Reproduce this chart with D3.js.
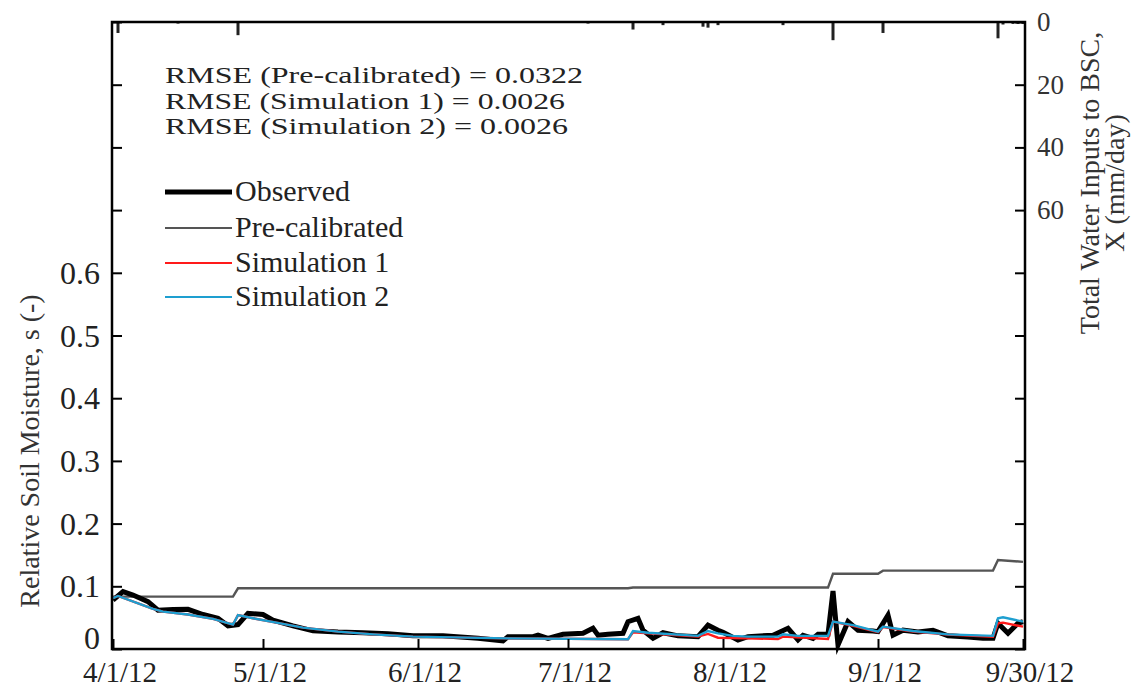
<!DOCTYPE html>
<html><head><meta charset="utf-8">
<script src="https://cdn.jsdelivr.net/npm/d3@7"></script>
<style>body{margin:0;background:#fff}svg{display:block}</style>
</head><body><div id="c"></div>
<script>
// ---------- data ----------
const obsDates = ["4/1","4/3","4/5","4/8","4/10","4/13","4/16","4/19","4/22","4/24","4/26","4/28","5/1","5/3","5/7","5/11","5/16","5/21","5/26","5/31","6/6","6/13","6/18","6/19","6/24","6/25","6/27","6/30","7/4","7/6","7/7","7/9","7/12","7/13","7/15","7/16","7/18","7/20","7/23","7/27","7/29","7/31","8/1","8/4","8/6","8/11","8/14","8/16","8/17","8/19","8/20","8/22","8/23","8/24","8/26","8/28","8/31","9/1","9/3","9/4","9/6","9/9","9/12","9/15","9/19","9/22","9/24","9/25","9/27","9/29","9/30"];
const obsValues = [0.078,0.0915,0.086,0.0755,0.062,0.063,0.0633,0.055,0.049,0.037,0.039,0.057,0.055,0.046,0.037,0.029,0.027,0.026,0.0245,0.021,0.021,0.017,0.013,0.0197,0.0197,0.022,0.017,0.0234,0.025,0.033,0.022,0.0234,0.025,0.0436,0.049,0.030,0.017,0.026,0.021,0.0197,0.038,0.030,0.0266,0.0144,0.0197,0.022,0.033,0.0144,0.022,0.017,0.0234,0.0234,0.0925,0.0064,0.0436,0.030,0.0287,0.0277,0.054,0.022,0.030,0.027,0.030,0.021,0.019,0.017,0.017,0.041,0.025,0.041,0.0436];

const preDates = ["4/1","4/25","4/26","7/13","7/14","8/22","8/23","9/1","9/2","9/24","9/25","9/30"];
const preValues = [0.0835,0.0835,0.0968,0.0968,0.098,0.098,0.12,0.12,0.125,0.125,0.142,0.139];

const sim1Dates = ["4/1","4/2","4/9","4/11","4/16","4/21","4/25","4/26","4/29","5/5","5/9","5/16","5/23","5/31","6/19","7/13","7/14","7/27","7/29","7/31","8/6","8/12","8/13","8/22","8/23","8/27","9/1","9/2","9/8","9/15","9/24","9/25","9/26","9/30"];
const sim1Values = [0.081,0.0846,0.064,0.0596,0.055,0.048,0.039,0.054,0.049,0.040,0.034,0.0277,0.0234,0.0197,0.017,0.0155,0.0266,0.0197,0.024,0.018,0.017,0.016,0.0197,0.016,0.0436,0.037,0.027,0.035,0.028,0.023,0.0197,0.041,0.042,0.0356];

const sim2Dates = ["4/1","4/2","4/9","4/11","4/16","4/21","4/25","4/26","4/29","5/5","5/9","5/16","5/23","5/31","6/19","7/13","7/14","7/17","7/27","7/29","7/31","8/3","8/6","8/12","8/13","8/16","8/22","8/23","8/27","9/1","9/2","9/8","9/15","9/24","9/25","9/26","9/30"];
const sim2Values = [0.081,0.0846,0.064,0.0596,0.055,0.048,0.039,0.054,0.049,0.040,0.034,0.0277,0.0234,0.0197,0.017,0.0155,0.0287,0.026,0.021,0.0287,0.025,0.021,0.0197,0.0197,0.0234,0.021,0.021,0.0436,0.038,0.0277,0.0356,0.0287,0.0234,0.021,0.049,0.0506,0.0436];

// total water inputs (mm/day), hanging bars from the top
const rainDates = ["4/2","4/14","4/26","7/5","7/14","7/20","7/28","7/29","7/31","8/13","8/23","9/2","9/25","9/26","9/28","9/29","9/30"];
const rainValues = [3.5,0.5,4.2,0.5,2.4,1.0,1.5,1.8,1.0,1.0,5.8,3.5,5.2,0.8,0.6,0.6,0.6];

const xTickDates = ["4/1","5/1","6/1","7/1","8/1","9/1","9/30"];
const xTickLabels = ["4/1/12","5/1/12","6/1/12","7/1/12","8/1/12","9/1/12","9/30/12"];
const yTicks = [0,0.1,0.2,0.3,0.4,0.5,0.6,0.7,0.8,0.9,1.0];
const yTickLabels = ["0","0.1","0.2","0.3","0.4","0.5","0.6","","","",""];
const y2Ticks = [0,20,40,60,80,100,120,140,160,180,200];
const y2TickLabels = ["0","20","40","60","","","","","","",""];

const rmseLines = ["RMSE (Pre-calibrated) = 0.0322","RMSE (Simulation 1) = 0.0026","RMSE (Simulation 2) = 0.0026"];
const legendLabels = ["Observed","Pre-calibrated","Simulation 1","Simulation 2"];
const legendColors = ["#000000","#555555","#ff1a1a","#1e9fd0"];
const legendWidths = [5,2.2,2.2,2.2];

// ---------- drawing ----------
const W = 1145, H = 689;
const L = 112, R = 1025, T = 22, B = 649;
const FONT = "Liberation Serif";
const parse = s => { const [m,d] = s.split("/").map(Number); return new Date(2012, m-1, d); };

const svg = d3.select("#c").append("svg").attr("width", W).attr("height", H);

const x = d3.scaleTime().domain([parse("4/1"), parse("9/30")]).range([113, 1023]);
const y = d3.scaleLinear().domain([0, 1]).range([B, T]);
const y2 = d3.scaleLinear().domain([0, 200]).range([T, B]);

// rain bars
svg.append("g").selectAll("rect").data(rainDates.map((d,i)=>({d:parse(d), v:rainValues[i]})))
  .join("rect")
  .attr("x", d => x(d.d) - 1.5).attr("width", 3)
  .attr("y", T).attr("height", d => y2(d.v) - T)
  .attr("fill", "#222");

// lines
const line = d3.line().x(d => x(d.d)).y(d => y(d.v));
const mk = (ds, vs) => ds.map((d,i)=>({d:parse(d), v:vs[i]}));
svg.append("path").datum(mk(preDates, preValues)).attr("d", line)
  .attr("fill","none").attr("stroke", legendColors[1]).attr("stroke-width", 2.4);
svg.append("path").datum(mk(obsDates, obsValues)).attr("d", line)
  .attr("fill","none").attr("stroke", legendColors[0]).attr("stroke-width", 5).attr("stroke-linejoin","miter").attr("stroke-miterlimit",6);
svg.append("path").datum(mk(sim1Dates, sim1Values)).attr("d", line)
  .attr("fill","none").attr("stroke", legendColors[2]).attr("stroke-width", 2.4);
svg.append("path").datum(mk(sim2Dates, sim2Values)).attr("d", line)
  .attr("fill","none").attr("stroke", legendColors[3]).attr("stroke-width", 2.4);

// axes (ticks inward)
const gL = svg.append("g").attr("transform", `translate(${L},0)`)
  .call(d3.axisRight(y).tickValues(yTicks).tickSize(10).tickFormat(""));
const gR = svg.append("g").attr("transform", `translate(${R},0)`)
  .call(d3.axisLeft(y2).tickValues(y2Ticks).tickSize(10).tickFormat(""));
const gB = svg.append("g").attr("transform", `translate(0,${B})`)
  .call(d3.axisTop(x).tickValues(xTickDates.map(parse)).tickSize(10).tickFormat(""));
[gL,gR,gB].forEach(g => { g.select(".domain").remove(); g.selectAll("line").attr("stroke","#000").attr("stroke-width",2); });

// frame
svg.append("rect").attr("x", L).attr("y", T).attr("width", R-L).attr("height", B-T)
  .attr("fill","none").attr("stroke","#000").attr("stroke-width",2.5);

// tick labels
svg.append("g").selectAll("text").data(yTicks.map((t,i)=>({t, s:yTickLabels[i]})).filter(d=>d.s))
  .join("text").attr("x", 100).attr("y", d => y(d.t) + (d.t === 0 ? 0 : 11))
  .attr("text-anchor","end").attr("font-family", FONT).attr("font-size", 32).attr("fill","#222").text(d => d.s);
svg.append("g").selectAll("text").data(y2Ticks.map((t,i)=>({t, s:y2TickLabels[i]})).filter(d=>d.s))
  .join("text").attr("x", 1037).attr("y", d => y2(d.t) + 9)
  .attr("text-anchor","start").attr("font-family", FONT).attr("font-size", 27).attr("fill","#333").text(d => d.s);
svg.append("g").selectAll("text").data(xTickDates.map((t,i)=>({t:parse(t), s:xTickLabels[i]})))
  .join("text").attr("x", d => x(d.t) + 7).attr("y", 682)
  .attr("text-anchor","middle").attr("font-family", FONT).attr("font-size", 29).attr("fill","#222").text(d => d.s);

// axis titles
svg.append("text").attr("transform","translate(39,451) rotate(-90)")
  .attr("text-anchor","middle").attr("font-family", FONT).attr("font-size", 28).attr("fill","#333")
  .text("Relative Soil Moisture, s (-)");
svg.append("text").attr("transform","translate(1099,183) rotate(-90)")
  .attr("text-anchor","middle").attr("font-family", FONT).attr("font-size", 28).attr("fill","#333")
  .text("Total Water Inputs to BSC,");
svg.append("text").attr("transform","translate(1124,183) rotate(-90)")
  .attr("text-anchor","middle").attr("font-family", FONT).attr("font-size", 28).attr("fill","#333")
  .text("X (mm/day)");

// RMSE annotations
svg.append("g").selectAll("text").data(rmseLines).join("text")
  .attr("x", 165).attr("y", (d,i) => 83 + i*25.5)
  .attr("font-family", FONT).attr("font-size", 23).attr("fill","#222")
  .attr("textLength", (d,i) => [418, 400, 403][i]).attr("lengthAdjust","spacingAndGlyphs")
  .text(d => d);

// legend
const lg = svg.append("g");
const legY = [192, 228, 263, 297];
legendLabels.forEach((lab, i) => {
  lg.append("line").attr("x1", 165).attr("x2", 232).attr("y1", legY[i]).attr("y2", legY[i])
    .attr("stroke", legendColors[i]).attr("stroke-width", legendWidths[i]);
  lg.append("text").attr("x", 235).attr("y", legY[i] + 9).attr("font-family", FONT).attr("font-size", 30).attr("fill","#222").text(lab);
});
</script></body></html>
